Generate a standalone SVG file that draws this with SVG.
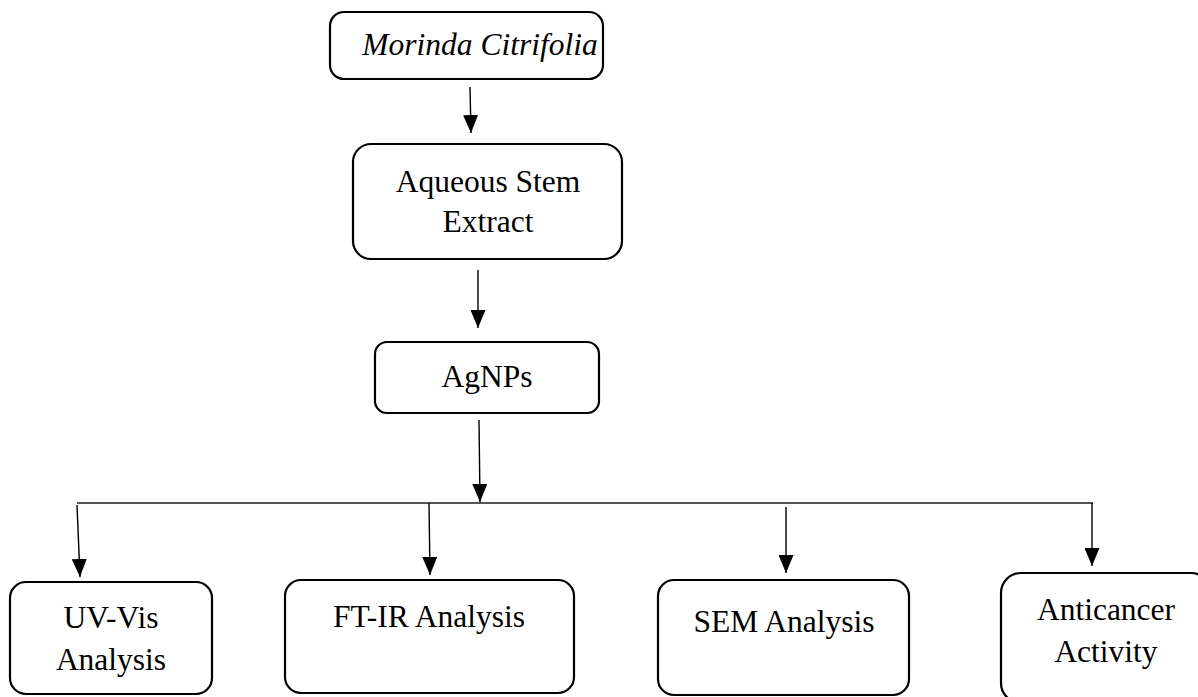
<svg xmlns="http://www.w3.org/2000/svg" width="1198" height="697" viewBox="0 0 1198 697">
<style>
.box{fill:#fff;stroke:#000;stroke-width:2.2}
.t{font-family:"Liberation Serif","Times New Roman",serif;font-size:31.5px;fill:#000;text-anchor:middle}
.it{font-style:italic}
.c{stroke:#000;stroke-width:1.4;fill:none}
.bus{stroke:#555;stroke-width:2;fill:none}
</style>
<defs>
<marker id="ah" viewBox="0 0 18 15" refX="18" refY="7.5" markerWidth="18" markerHeight="15" markerUnits="userSpaceOnUse" orient="auto">
<path d="M0,0 L18,7.5 L0,15 z" fill="#000"/>
</marker>
</defs>
<rect width="1198" height="697" fill="#fff"/>
<g id="connectors">
<line class="c" x1="470" y1="87" x2="471" y2="133" marker-end="url(#ah)"/>
<line class="c" x1="478" y1="270" x2="478" y2="328" marker-end="url(#ah)"/>
<line class="c" x1="479" y1="420" x2="480" y2="502" marker-end="url(#ah)"/>
<line class="bus" x1="77" y1="503" x2="1093" y2="503"/>
<line class="c" x1="77" y1="505" x2="80" y2="577" marker-end="url(#ah)"/>
<line class="c" x1="429" y1="503" x2="430" y2="575" marker-end="url(#ah)"/>
<line class="c" x1="786" y1="507" x2="786" y2="573" marker-end="url(#ah)"/>
<line class="c" x1="1092" y1="503" x2="1092" y2="566" marker-end="url(#ah)"/>
</g>
<g id="morinda">
<rect class="box" x="330" y="12" width="273" height="67" rx="14"/>
<text class="t it" x="480" y="55">Morinda Citrifolia</text>
</g>
<g id="extract">
<rect class="box" x="353" y="144" width="269" height="115" rx="18"/>
<text class="t" x="488" y="192">Aqueous Stem</text>
<text class="t" x="488" y="232">Extract</text>
</g>
<g id="agnps">
<rect class="box" x="375" y="342" width="224" height="71" rx="12"/>
<text class="t" x="487" y="387">AgNPs</text>
</g>
<g id="uvvis">
<rect class="box" x="10" y="582" width="202" height="112" rx="16"/>
<text class="t" x="111" y="628">UV-Vis</text>
<text class="t" x="111" y="670">Analysis</text>
</g>
<g id="ftir">
<rect class="box" x="285" y="580" width="289" height="113" rx="16"/>
<text class="t" x="429" y="627">FT-IR Analysis</text>
</g>
<g id="sem">
<rect class="box" x="658" y="580" width="251" height="115" rx="16"/>
<text class="t" x="784" y="632">SEM Analysis</text>
</g>
<g id="anticancer">
<rect class="box" x="1001" y="573" width="210" height="130" rx="20"/>
<text class="t" x="1106" y="620">Anticancer</text>
<text class="t" x="1106" y="662">Activity</text>
</g>
</svg>
